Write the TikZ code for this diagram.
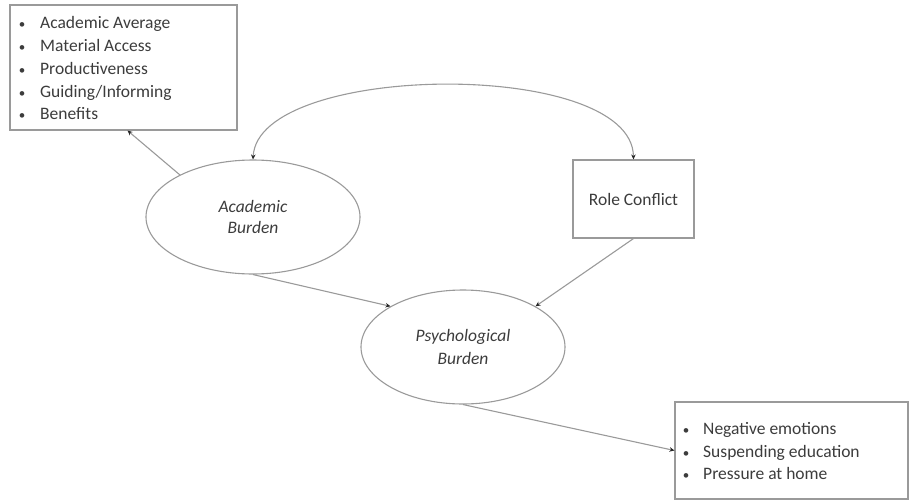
\documentclass[tikz,border=0pt]{standalone}
\usepackage{fontspec}
\setmainfont{Carlito}
\usetikzlibrary{arrows.meta,shapes.geometric}
\definecolor{linec}{HTML}{9A9A9A}
\definecolor{textc}{HTML}{3C3C3C}
\tikzset{
  box/.style={draw=linec, line width=1.1pt, rectangle, inner sep=0pt},
  ell/.style={draw=linec, line width=1.1pt, ellipse, inner sep=0pt},
  conn/.style={draw=linec, line width=1.1pt, -{Stealth[length=5pt,width=4.5pt,color=black!85]}},
  bi/.style={draw=linec, line width=1.1pt, {Stealth[length=5pt,width=4.5pt,color=black!85]}-{Stealth[length=5pt,width=4.5pt,color=black!85]}},
  lbl/.style={text=textc, font=\fontsize{17.5}{23}\selectfont, anchor=base west, inner sep=0pt},
  blt/.style={text=textc, font=\fontsize{13}{23}\selectfont, anchor=base, inner sep=0pt}
}
\begin{document}
\begin{tikzpicture}[x=1pt,y=-1pt]
\useasboundingbox (0,0) rectangle (911,501);
% top-left box
\node[box, minimum width=227pt, minimum height=125pt] (tl) at (123.5,67.5) {};
\foreach \t/\yy in {{Academic Average}/22, {Material Access}/45, {Productiveness}/68, {Guiding/Informing}/91, {Benefits}/113}{
  \node[blt] at (22,\yy+6) {•};
  \node[lbl] at (40,\yy+6) {\t};
}
% Academic burden
\node[ell, minimum width=214pt, minimum height=114pt, text=textc, font=\fontsize{17.5}{21}\selectfont\itshape, align=center] (ab) at (253,217) {Academic\\Burden};
% Role conflict
\node[box, minimum width=121pt, minimum height=78pt, text=textc, font=\fontsize{17.5}{21}\selectfont] (rc) at (633.5,199) {Role Conflict};
% Psychological burden
\node[ell, minimum width=204pt, minimum height=114pt, text=textc, font=\fontsize{17.5}{23}\selectfont\itshape, align=center] (pb) at (463,347) {Psychological\\Burden};
% bottom right box
\node[box, minimum width=233pt, minimum height=97pt] (br) at (791.5,450.5) {};
\foreach \t/\yy in {{Negative emotions}/428, {Suspending education}/451, {Pressure at home}/473}{
  \node[blt] at (686,\yy+6) {•};
  \node[lbl] at (703,\yy+6) {\t};
}
% connectors
\coordinate (abtl) at (180,175);
\draw[conn] (abtl) -- ([xshift=4pt]tl.south);
\draw[bi] (ab.north) .. controls (258,62) and (632,58) .. (rc.north);
\draw[conn] (ab.south) -- (pb.north west);
\draw[conn] (rc.south) -- (pb.north east);
\draw[conn] (pb.south) -- (br.west);
\end{tikzpicture}
\end{document}
